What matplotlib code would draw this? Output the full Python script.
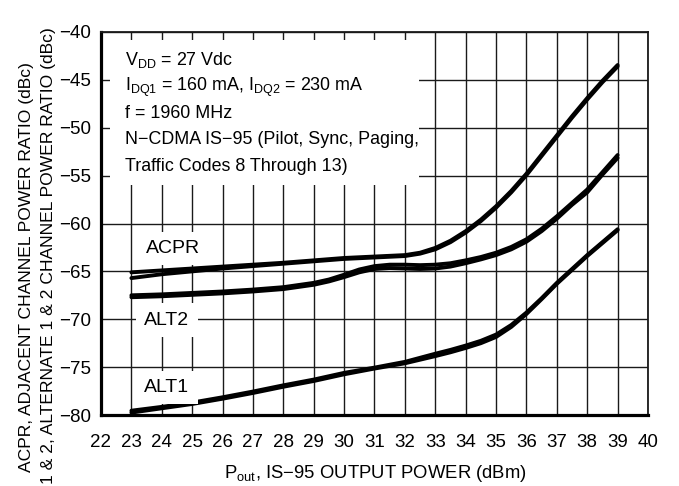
import matplotlib
matplotlib.use("Agg")
import matplotlib.pyplot as plt
from matplotlib.patches import Rectangle

FONT = ['Liberation Sans', 'DejaVu Sans']
plt.rcParams['font.family'] = FONT
plt.rcParams['mathtext.fontset'] = 'custom'
plt.rcParams['mathtext.rm'] = 'Liberation Sans'
plt.rcParams['mathtext.it'] = 'Liberation Sans'
plt.rcParams['mathtext.bf'] = 'Liberation Sans'

# ---------------- data ----------------
x_ticks = list(range(22, 41))
y_ticks = [-80, -75, -70, -65, -60, -55, -50, -45, -40]

acpr_x = [23, 24, 25, 26, 27, 28, 29, 30, 31, 32, 32.5, 33, 33.5, 34, 34.5, 35,
          35.5, 36, 36.5, 37, 37.5, 38, 38.5, 39]
acpr_a = [-65.1, -64.9, -64.7, -64.5, -64.3, -64.1, -63.85, -63.6, -63.45, -63.3,
          -63.05, -62.55, -61.8, -60.8, -59.6, -58.2, -56.6, -54.8, -52.8, -50.8,
          -48.8, -46.9, -45.1, -43.45]
acpr_b = [-65.7, -65.3, -65.0, -64.7, -64.45, -64.2, -63.95, -63.7, -63.55, -63.4,
          -63.15, -62.7, -61.95, -60.95, -59.75, -58.35, -56.75, -54.95, -52.95, -50.95,
          -48.95, -47.05, -45.25, -43.6]

alt2_x = [23, 24, 25, 26, 27, 28, 29, 29.5, 30, 30.5, 31, 31.5, 32, 32.5, 33, 33.5,
          34, 34.5, 35, 35.5, 36, 36.5, 37, 37.5, 38, 38.5, 39]
alt2_a = [-67.5, -67.4, -67.25, -67.1, -66.9, -66.65, -66.2, -65.85, -65.35, -64.8,
          -64.45, -64.3, -64.3, -64.35, -64.3, -64.15, -63.85, -63.5, -63.05, -62.45,
          -61.65, -60.55, -59.25, -57.85, -56.45, -54.65, -52.85]
alt2_b = [-67.7, -67.6, -67.45, -67.3, -67.1, -66.85, -66.4, -66.05, -65.6, -65.1,
          -64.75, -64.65, -64.7, -64.75, -64.7, -64.5, -64.15, -63.75, -63.3, -62.7,
          -61.9, -60.8, -59.5, -58.05, -56.75, -54.9, -53.15]

alt1_x = [23, 24, 25, 26, 27, 28, 29, 30, 31, 32, 33, 33.5, 34, 34.5, 35, 35.5,
          36, 36.5, 37, 37.5, 38, 38.5, 39]
alt1_a = [-79.55, -79.15, -78.7, -78.15, -77.55, -76.9, -76.3, -75.6, -75.05, -74.45,
          -73.6, -73.2, -72.75, -72.25, -71.6, -70.6, -69.3, -67.8, -66.2, -64.75,
          -63.3, -61.95, -60.6]
alt1_b = [-79.75, -79.3, -78.85, -78.3, -77.7, -77.05, -76.45, -75.75, -75.15, -74.6,
          -73.85, -73.45, -73.0, -72.5, -71.85, -70.8, -69.45, -67.9, -66.3, -64.85,
          -63.4, -62.05, -60.7]

curve_labels = ["ACPR", "ALT2", "ALT1"]
label_pos_x = [24.38, 24.17, 24.17]
label_pos_y = [-62.6, -70.08, -77.13]

note_lines = [r"V$_{\mathrm{DD}}$ = 27 Vdc",
              r"I$_{\mathrm{DQ1}}$ = 160 mA, I$_{\mathrm{DQ2}}$ = 230 mA",
              "f = 1960 MHz",
              "N\u2212CDMA IS\u221295 (Pilot, Sync, Paging,",
              "Traffic Codes 8 Through 13)"]
note_y = [-43.45, -46.2, -48.97, -51.73, -54.49]

xlabel = "P$_{\\mathrm{out}}$, IS\u221295 OUTPUT POWER (dBm)"
ylabel1 = "ACPR, ADJACENT CHANNEL POWER RATIO (dBc)"
ylabel2 = "1 & 2, ALTERNATE 1 & 2 CHANNEL POWER RATIO (dBc)"

# ---------------- figure ----------------
W, H = 679, 486
fig = plt.figure(figsize=(W / 100, H / 100), dpi=100)
ax = fig.add_axes([101 / W, 1 - 415 / H, (648 - 101) / W, (415 - 32) / H])
ax.set_xlim(22, 40)
ax.set_ylim(-80, -40)
ax.set_xticks(x_ticks)
ax.set_yticks(y_ticks)
ax.tick_params(length=0, labelsize=13.5, colors='black')
ax.tick_params(axis='x', pad=14)
ax.tick_params(axis='y', pad=7)
ax.set_axisbelow(True)
ax.grid(True, color='#1a1a1a', linewidth=1.0)
for s in ['left', 'bottom']:
    ax.spines[s].set_linewidth(2.3)
    ax.spines[s].set_color('black')
for s in ['top', 'right']:
    ax.spines[s].set_linewidth(1.3)
    ax.spines[s].set_color('#1a1a1a')

# white annotation area
ax.add_patch(Rectangle((22.3, -56.0), 32.45 - 22.3, 56.0 - 40.85,
                       facecolor='white', edgecolor='none', zorder=1.5))

lw = 2.8
for xs, ys in [(acpr_x, acpr_a), (acpr_x, acpr_b), (alt2_x, alt2_a), (alt2_x, alt2_b),
               (alt1_x, alt1_a), (alt1_x, alt1_b)]:
    ax.plot(xs, ys, color='black', linewidth=lw, solid_capstyle='round',
            solid_joinstyle='round', zorder=3)

for t, lx, ly in zip(curve_labels, label_pos_x, label_pos_y):
    ax.text(lx, ly, t, fontsize=14, ha='center', va='center', zorder=4,
            bbox=dict(facecolor='white', edgecolor='none', pad=6))

for t, ny in zip(note_lines, note_y):
    ax.text(22.79, ny, t, fontsize=12.9, ha='left', va='baseline', zorder=4)

fig.text(375 / W, 1 - 473 / H, xlabel, fontsize=13.3, ha='center', va='center')
fig.text(27 / W, 1 - 267 / H, ylabel1, fontsize=12.6, rotation=90, ha='center', va='center')
fig.text(49 / W, 1 - 484 / H, ylabel2, fontsize=12.6, rotation=90, ha='center', va='bottom')

fig.savefig("out.png", dpi=100)
